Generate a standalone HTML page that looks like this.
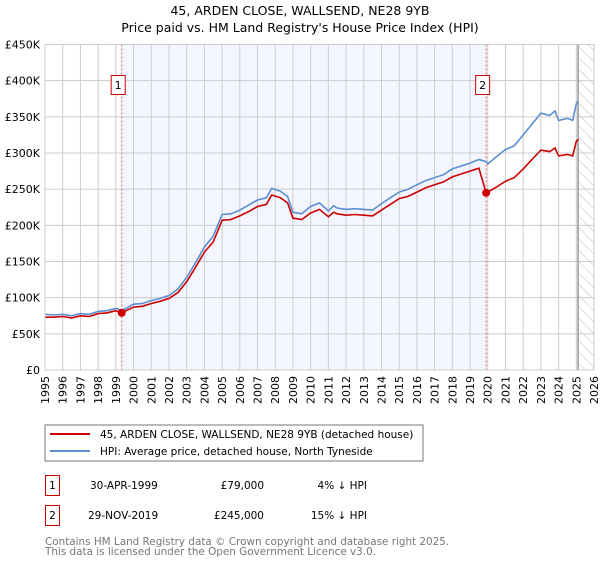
<!DOCTYPE html>
<html><head><meta charset="utf-8"><style>
body{margin:0;background:#fff;font-family:"DejaVu Sans","Liberation Sans",sans-serif;}
svg text{font-family:"DejaVu Sans","Liberation Sans",sans-serif;}
</style></head><body>
<svg id="c" width="600" height="560" xmlns="http://www.w3.org/2000/svg">
<defs><pattern id="hatch" width="8" height="8" patternUnits="userSpaceOnUse" patternTransform="rotate(-45)"><line x1="0" y1="0" x2="0" y2="8" stroke="#bbb" stroke-width="1"/></pattern></defs>
<text x="300" y="15" text-anchor="middle" font-size="12.5" fill="#000">45, ARDEN CLOSE, WALLSEND, NE28 9YB</text>
<text x="300" y="32" text-anchor="middle" font-size="12.5" fill="#000">Price paid vs. HM Land Registry's House Price Index (HPI)</text>
<g id="plot"></g>
<g>
<rect x="45" y="425" width="378" height="36" fill="#fff" stroke="#777"/>
<line x1="50" y1="434" x2="90" y2="434" stroke="#cc0000" stroke-width="2"/>
<text x="100" y="438" font-size="10.5">45, ARDEN CLOSE, WALLSEND, NE28 9YB (detached house)</text>
<line x1="50" y1="451" x2="90" y2="451" stroke="#5b8fd0" stroke-width="2"/>
<text x="100" y="455" font-size="10.5">HPI: Average price, detached house, North Tyneside</text>
</g>
<g font-size="10.5">
<rect x="45.5" y="475.5" width="14" height="20" fill="#fff" stroke="#c00"/><text x="52.5" y="489" text-anchor="middle">1</text>
<text x="90" y="489">30-APR-1999</text><text x="264" y="489" text-anchor="end">£79,000</text><text x="367" y="489" text-anchor="end">4% ↓ HPI</text>
<rect x="45.5" y="505.5" width="14" height="20" fill="#fff" stroke="#c00"/><text x="52.5" y="519" text-anchor="middle">2</text>
<text x="88" y="519">29-NOV-2019</text><text x="264" y="519" text-anchor="end">£245,000</text><text x="367" y="519" text-anchor="end">15% ↓ HPI</text>
</g>
<text x="45" y="545" font-size="10.4" fill="#777">Contains HM Land Registry data © Crown copyright and database right 2025.</text>
<text x="45" y="555" font-size="10.4" fill="#777">This data is licensed under the Open Government Licence v3.0.</text>
</svg>
<script>
const hpiYears=[1995,1995.5,1996,1996.5,1997,1997.5,1998,1998.5,1999,1999.33,1999.5,2000,2000.5,2001,2001.5,2002,2002.5,2003,2003.5,2004,2004.5,2005,2005.5,2006,2006.5,2007,2007.5,2007.8,2008.3,2008.7,2009,2009.5,2010,2010.5,2011,2011.3,2011.5,2012,2012.5,2013,2013.5,2014,2014.5,2015,2015.5,2016,2016.5,2017,2017.5,2018,2018.5,2019,2019.5,2019.91,2020,2020.5,2021,2021.5,2022,2022.5,2023,2023.5,2023.8,2024,2024.5,2024.8,2025,2025.1];
const hpiValues=[77,76,77,75,78,77,81,82,85,83,84,91,92,96,99,103,112,128,148,170,185,215,216,221,228,235,238,251,247,240,218,216,226,231,220,227,224,222,223,222,221,230,238,246,250,256,262,266,270,278,282,286,291,288,285,295,305,310,325,340,355,352,358,345,348,345,368,372];
const priceValues=[73,73,74,72,75,74,78,79,82,79,81,87,88,92,95,99,107,122,142,163,177,207,208,213,219,226,229,242,238,231,210,208,217,222,212,218,216,214,215,214,213,221,229,237,240,246,252,256,260,267,271,275,279,245,246,253,261,266,278,291,304,302,307,296,298,296,316,319];
const yTicks=[0,50,100,150,200,250,300,350,400,450];
const yTickLabels=["£0","£50K","£100K","£150K","£200K","£250K","£300K","£350K","£400K","£450K"];
const xTicks=[1995,1996,1997,1998,1999,2000,2001,2002,2003,2004,2005,2006,2007,2008,2009,2010,2011,2012,2013,2014,2015,2016,2017,2018,2019,2020,2021,2022,2023,2024,2025,2026];
const saleYears=[1999.33,2019.91];
const salePrices=[79,245];
const saleLabels=["1","2"];
const L=45,R=594,T=44.5,B=370,X0=1995,X1=2026,YMAX=450;
const sx=v=>L+(v-X0)/(X1-X0)*(R-L);
const sy=v=>B-v/YMAX*(B-T);
const NS="http://www.w3.org/2000/svg";
const g=document.getElementById('plot');
function mk(t,a,p){const e=document.createElementNS(NS,t);for(const k in a)e.setAttribute(k,a[k]);(p||g).appendChild(e);return e;}
let e;
e=mk('rect',{x:sx(saleYears[0]),y:T,width:sx(saleYears[1])-sx(saleYears[0]),height:B-T,fill:'#f3f6fe'});


e=mk('rect',{x:sx(2025.1),y:T,width:R-sx(2025.1),height:B-T,fill:'url(#hatch)'});


xTicks.forEach(y=>{
 e=mk('line',{x1:sx(y),x2:sx(y),y1:T,y2:B,stroke:'#ccc','stroke-width':1});
 
 
 e=mk('text',{x:0,y:0,'font-size':11,'text-anchor':'end',transform:`translate(${sx(y)+4},${B+6}) rotate(-90)`});
 e.textContent=y;
 
 
});
yTicks.forEach((v,i)=>{
 e=mk('line',{x1:L,x2:R,y1:sy(v),y2:sy(v),stroke:'#ccc','stroke-width':1});
 
 
 e=mk('text',{x:L-5,y:sy(v)+4,'font-size':11,'text-anchor':'end'});
 e.textContent=yTickLabels[i];
 
 
});
e=mk('line',{x1:sx(2025.1),x2:sx(2025.1),y1:T,y2:B,stroke:'#999','stroke-width':1.5});


saleYears.forEach((y,i)=>{
 e=mk('line',{x1:sx(y),x2:sx(y),y1:T,y2:B,stroke:'#e55','stroke-width':1,'stroke-dasharray':'2,2'});
 
 
});
const pts=(vals)=>hpiYears.map((y,i)=>sx(y).toFixed(1)+','+sy(vals[i]).toFixed(1)).join(' ');
e=mk('polyline',{points:pts(hpiValues),fill:'none',stroke:'#5b8fd0','stroke-width':1.6});


e=mk('polyline',{points:pts(priceValues),fill:'none',stroke:'#cc0000','stroke-width':1.6});


saleYears.forEach((y,i)=>{
 e=mk('circle',{cx:sx(y),cy:sy(salePrices[i]),r:4,fill:'#cc0000'});
 
 
 e=mk('rect',{x:sx(y)-10.5,y:75.5,width:14,height:19,fill:'#fff',stroke:'#c00'});
 
 
 e=mk('text',{x:sx(y)-3.5,y:89,'font-size':11,'text-anchor':'middle'});
 e.textContent=saleLabels[i];
 
 
});
e=mk('rect',{x:L,y:T,width:R-L,height:B-T,fill:'none',stroke:'#ccc'});


</script>
</body></html>
